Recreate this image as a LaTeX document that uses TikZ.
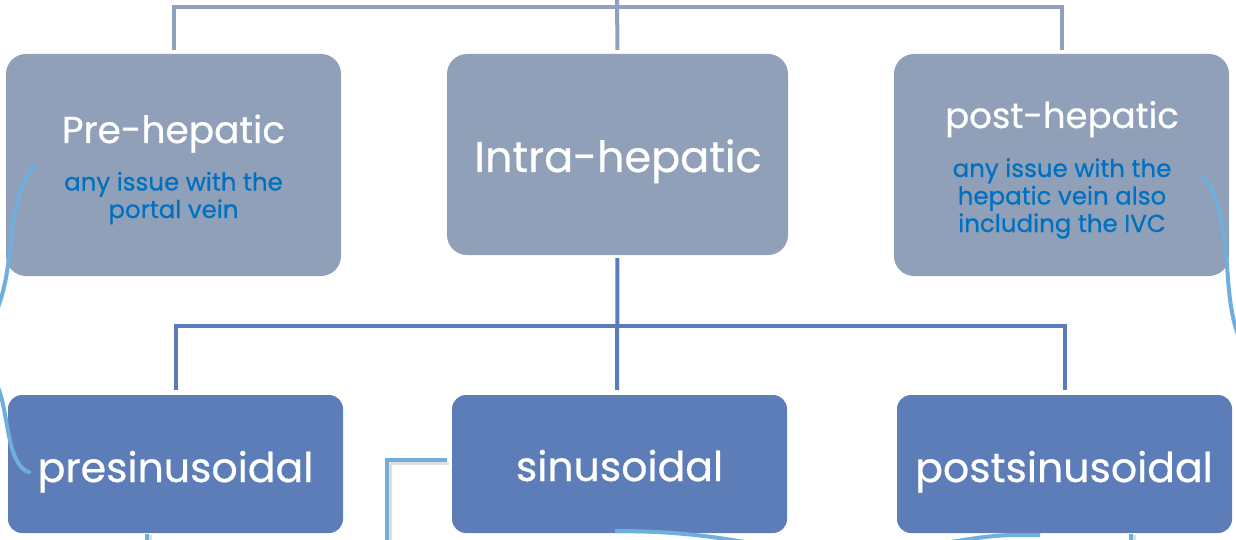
\documentclass[tikz,border=0pt]{standalone}
\usepackage{fontspec}
\setmainfont{Poppins}[FakeBold=0.6]
\definecolor{grayboxc}{RGB}{143,160,184}
\definecolor{blueboxc}{RGB}{93,125,185}
\definecolor{graylinec}{RGB}{143,161,190}
\definecolor{bluelinec}{RGB}{91,124,187}
\definecolor{notec}{RGB}{111,174,221}
\definecolor{subtextc}{RGB}{0,112,192}
\tikzset{
  graybox/.style={fill=grayboxc, draw=none, rounded corners=20pt, inner sep=0pt, minimum width=335pt},
  bluebox/.style={fill=blueboxc, draw=none, rounded corners=14pt, inner sep=0pt, minimum width=335pt, minimum height=138pt},
  grayline/.style={draw=graylinec, line width=4pt},
  blueline/.style={draw=bluelinec, line width=4pt},
  note/.style={draw=notec, line width=4pt, line cap=round},
  noteshadow/.style={draw=black!25, line width=3pt, opacity=0.5},
  title/.style={text=white, anchor=base, inner sep=0pt, font=\fontsize{37.5}{40}\selectfont},
  posttitle/.style={text=white, anchor=base, inner sep=0pt, font=\fontsize{35.5}{40}\selectfont},
  bigtitle/.style={text=white, anchor=base, inner sep=0pt, font=\fontsize{43}{46}\selectfont},
  lowtitle/.style={text=white, anchor=base, inner sep=0pt, font=\fontsize{41}{44}\selectfont},
  subtext/.style={text=subtextc, anchor=base, inner sep=0pt, align=center, font=\fontsize{24.5}{27.5}\selectfont}
}
\begin{document}
\begin{tikzpicture}[x=1pt,y=-1pt]
\useasboundingbox (0,0) rectangle (1236,540);
\clip (0,0) rectangle (1236,540);
% boxes
\node[graybox, minimum height=222pt] (pre) at (173.5,165) {};
\node[graybox, minimum width=341pt, minimum height=201pt] (intra) at (617.5,154.5) {};
\node[graybox, minimum height=222pt] (post) at (1061.5,165) {};
\node[bluebox] (presin) at (175.5,464) {};
\node[bluebox] (sin) at (619.5,464) {};
\node[bluebox] (postsin) at (1064.5,464) {};
% texts
\node[title] (pret) at (173.5,143) {Pre-hepatic};
\node[subtext] (pres) at (173.5,218) {any issue with the\\portal vein};
\node[bigtitle] (intrat) at (618,172) {Intra-hepatic};
\node[posttitle] (postt) at (1062,128) {post-hepatic};
\node[subtext] (posts) at (1062,232) {any issue with the\\hepatic vein also\\including the IVC};
\node[lowtitle] (presint) at (175.5,482) {presinusoidal};
\node[lowtitle] (sint) at (619.5,481) {sinusoidal};
\node[lowtitle] (postsint) at (1064,482) {postsinusoidal};
% top connectors
\coordinate (root) at (617,-2);
\coordinate (topbar) at (617,7);
\draw[grayline, shorten >=4pt] (root) -- (intra.north);
\draw[grayline, shorten <=4pt, shorten >=4pt] (pre.north) |- (topbar) -| (post.north);
% bottom connectors
\coordinate (midbar) at (617,326);
\coordinate (sinin) at (617,390);
\draw[blueline, shorten <=3pt] (intra.south) -- (sinin);
\draw[blueline, shorten <=5pt, shorten >=5pt] (presin.north) |- (midbar) -| (postsin.north);
% annotations
\coordinate (n1) at (35,166);
\draw[note] (n1) .. controls (18,180) and (13,220) .. (10,250) .. controls (7,275) and (4,292) .. (-3,310);
\coordinate (n2) at (29,472);
\draw[note] (-3,385) .. controls (4,400) and (6,425) .. (11,445) .. controls (15,460) and (21,470) .. (n2);
\coordinate (n3) at (1203,177);
\draw[note] (n3) .. controls (1218,190) and (1224,230) .. (1227,265) .. controls (1229,295) and (1231,318) .. (1240,340);
\coordinate (n4) at (447,460);
\draw[noteshadow] (449,463) -- (390,463) -- (390,545);
\draw[note, line cap=butt] (n4) -- (387,460) -- (387,545);
\draw[noteshadow] (150,535) -- (150,545);
\draw[note, line cap=butt] (147,534) -- (147,545);
\draw[noteshadow] (1134,535) -- (1134,545);
\draw[note, line cap=butt] (1131,534) -- (1131,545);
\coordinate (n5) at (615,531);
\draw[note, line cap=butt] (n5) .. controls (660,531) and (700,534) .. (750,543);
\coordinate (n6) at (1040,535);
\draw[note, line cap=butt] (n6) -- (1015,535) .. controls (995,535) and (975,538) .. (945,543);
\end{tikzpicture}
\end{document}
